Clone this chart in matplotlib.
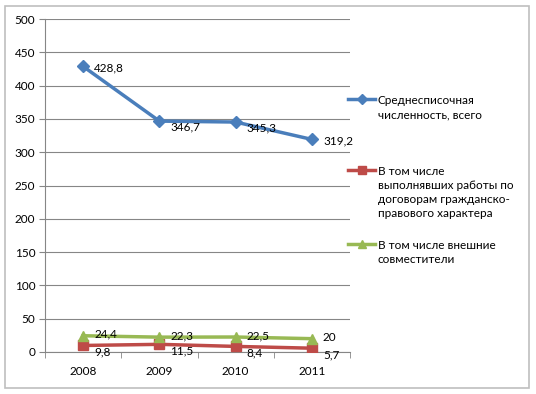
import matplotlib.pyplot as plt
from matplotlib.patches import Rectangle
from matplotlib.lines import Line2D

years = ['2008', '2009', '2010', '2011']
vsego = [428.8, 346.7, 345.3, 319.2]
dogovor = [9.8, 11.5, 8.4, 5.7]
sovmest = [24.4, 22.3, 22.5, 20]

labels = ['Среднесписочная\nчисленность, всего',
          'В том числе\nвыполнявших работы по\nдоговорам гражданско-\nправового характера',
          'В том числе внешние\nсовместители']
colors = ['#4a7ebb', '#be4b48', '#98b954']
markers = ['D', 's', '^']

plt.rcParams['font.family'] = ['Lato', 'DejaVu Sans']
plt.rcParams['font.size'] = 8.5

fig = plt.figure(figsize=(5.36, 3.94), dpi=100)
W, H = 536, 394
ax = fig.add_axes([45 / W, 1 - 352 / H, 305 / W, 333 / H])

x = list(range(len(years)))
series = [vsego, dogovor, sovmest]
for vals, c, m in zip(series, colors, markers):
    ax.plot(x, vals, color=c, lw=2.5, marker=m, ms=7 if m != 'D' else 6, zorder=3)

def fmt(v):
    return str(v).replace('.', ',') if v != int(v) else str(int(v))

for i, v in enumerate(vsego):
    dy = -4 if i in (1, 2) else -1
    ax.annotate(fmt(v), (i, v), xytext=(8, dy), textcoords='offset points',
                va='center', ha='left', fontsize=8.5)
for i, v in enumerate(sovmest):
    ax.annotate(fmt(v), (i, v), xytext=(8, 1), textcoords='offset points',
                va='center', ha='left', fontsize=8.5)
for i, v in enumerate(dogovor):
    ax.annotate(fmt(v), (i, v), xytext=(8, -5), textcoords='offset points',
                va='center', ha='left', fontsize=8.5)

ax.set_xlim(-0.5, 3.5)
ax.set_ylim(0, 500)
ax.set_yticks(range(0, 501, 50))
ax.set_xticks(x)
ax.set_xticklabels(years)
ax.set_xticks([-0.5, 0.5, 1.5, 2.5, 3.5], minor=True)
ax.tick_params(axis='x', which='major', length=0, pad=10)
ax.tick_params(axis='x', which='minor', length=4, color='#868686', direction='out')
ax.tick_params(axis='y', length=4, color='#868686', direction='out', pad=3)
ax.grid(axis='y', color='#868686', lw=0.8)
ax.set_axisbelow(True)
for s in ['top', 'right']:
    ax.spines[s].set_visible(False)
for s in ['left', 'bottom']:
    ax.spines[s].set_color('#868686')

# legend drawn by hand: Excel puts the key beside the first text line
first_lines = [99, 170, 244]
for lab, c, m, y in zip(labels, colors, markers, first_lines):
    fy = 1 - y / H
    fig.add_artist(Line2D([348 / W, 375 / W], [fy, fy], color=c, lw=2.5,
                          transform=fig.transFigure))
    fig.add_artist(Line2D([361.5 / W], [fy], color=c, marker=m, ms=5 if m == 'D' else 6,
                          transform=fig.transFigure))
    fig.text(378 / W, 1 - (y - 4) / H, lab, ha='left', va='top', fontsize=8.5,
             linespacing=1.35)

fig.patches.append(Rectangle((5 / W, 6 / H), 524 / W, 382 / H, transform=fig.transFigure,
                             fill=False, edgecolor='#bfbfbf', lw=1.2))

fig.savefig('out.png', dpi=100)
